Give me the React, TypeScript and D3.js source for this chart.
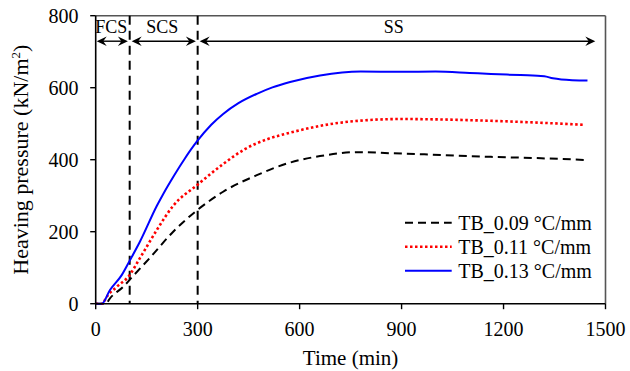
import React from "react";
import * as d3 from "d3";

const xTicks = [0, 300, 600, 900, 1200, 1500];
const yTicks = [0, 200, 400, 600, 800];

const seriesNames = ["TB_0.09 °C/mm", "TB_0.11 °C/mm", "TB_0.13 °C/mm"];

const timeBlack = [0, 30, 42, 81, 111, 160, 228, 299, 375, 474, 572, 660, 770, 868, 967, 1065, 1163, 1311, 1449];
const valBlack = [0, 0, 15, 47, 78, 128, 200, 260, 311, 357, 392, 410, 421, 418, 415, 411, 408, 404, 399];

const timeRed = [0, 22, 27, 62, 96, 131, 180, 228, 299, 375, 440, 505, 572, 660, 760, 898, 1000, 1163, 1300, 1434];
const valRed = [0, 0, 10, 47, 75, 128, 205, 272, 330, 388, 430, 457, 475, 494, 507, 513, 512, 508, 503, 497];

const timeBlue = [0, 18, 42, 77, 101, 130, 180, 200, 228, 260, 299, 340, 375, 420, 474, 520, 572, 660, 780, 898, 1000, 1100, 1163, 1250, 1320, 1345, 1370, 1447];
const valBlue = [0, 0, 38, 80, 121, 172, 272, 307, 352, 400, 452, 497, 527, 557, 583, 601, 616, 634, 645, 644, 645, 641, 638, 635, 632, 626, 623, 620];

const phaseBounds = [0, 100, 300, 1470];
const phaseLabels = ["FCS", "SCS", "SS"];

const W = 630;
const H = 371;
const FONT = "'Liberation Serif', 'Times New Roman', serif";

const x = d3.scaleLinear().domain([0, 1500]).range([95.7, 605.5]);
const y = d3.scaleLinear().domain([0, 800]).range([303.7, 15.7]);

type S = { t: number[]; v: number[]; color: string; dash: string; width: number };
const series: S[] = [
  { t: timeBlack, v: valBlack, color: "#000000", dash: "8,5", width: 2 },
  { t: timeRed, v: valRed, color: "#FF0000", dash: "2.5,2.5", width: 2.6 },
  { t: timeBlue, v: valBlue, color: "#0000FF", dash: "none", width: 2 },
];

const line = d3
  .line<[number, number]>()
  .x((d) => x(d[0]))
  .y((d) => y(d[1]))
  .curve(d3.curveMonotoneX);

function arrowHead(tipX: number, yy: number, dir: number) {
  const L = 10;
  const h = 4.8;
  const notch = 3.5;
  const bx = tipX - dir * L;
  const nx = tipX - dir * (L - notch);
  return `M${tipX},${yy} L${bx},${yy - h} L${nx},${yy} L${bx},${yy + h} Z`;
}

export default function App() {
  const arrowY = 41.2;
  const x0 = x.range()[0];
  const x1 = x.range()[1];
  const y0 = y.range()[0];
  const y1 = y.range()[1];
  return (
    <svg
      width={W}
      height={H}
      style={{ position: "absolute", left: 0, top: 0, background: "#fff" }}
      fontFamily={FONT}
    >
      <rect x={0} y={0} width={W} height={H} fill="#fff" />
      <line x1={x0} y1={y1} x2={x1} y2={y1} stroke="#555" strokeWidth={1.6} />
      <line x1={x1} y1={y1} x2={x1} y2={y0} stroke="#555" strokeWidth={1.6} />

      {[100, 300].map((t) => (
        <line key={t} x1={x(t)} x2={x(t)} y1={y1} y2={y0} stroke="#000" strokeWidth={2} strokeDasharray="9,6" />
      ))}

      {phaseLabels.map((lab, i) => {
        const a = x(phaseBounds[i]) + (i === 0 ? 1 : 2);
        const b = x(phaseBounds[i + 1]) - (i === 2 ? 0 : 1.8);
        return (
          <g key={lab}>
            <line x1={a + 4} x2={b - 4} y1={arrowY} y2={arrowY} stroke="#000" strokeWidth={1.4} />
            <path d={arrowHead(a, arrowY, -1)} fill="#000" />
            <path d={arrowHead(b, arrowY, 1)} fill="#000" />
          </g>
        );
      })}
      <text x={111.2} y={33.3} fontSize={18} textAnchor="middle">FCS</text>
      <text x={162.3} y={33.3} fontSize={18} textAnchor="middle">SCS</text>
      <text x={393.7} y={33.3} fontSize={18} textAnchor="middle">SS</text>

      {series.map((s, i) => (
        <path
          key={i}
          d={line(s.t.map((t, j) => [t, s.v[j]] as [number, number])) || ""}
          fill="none"
          stroke={s.color}
          strokeWidth={s.width}
          strokeDasharray={s.dash}
        />
      ))}

      <line x1={x0} y1={y0} x2={x1} y2={y0} stroke="#000" strokeWidth={1.6} />
      <line x1={x0} y1={y0} x2={x0} y2={y1} stroke="#000" strokeWidth={1.6} />
      {xTicks.map((t) => (
        <g key={t}>
          <line x1={x(t)} x2={x(t)} y1={y0} y2={y0 + 5.5} stroke="#000" strokeWidth={1.4} />
          <text x={x(t)} y={336} fontSize={20} textAnchor="middle">{t}</text>
        </g>
      ))}
      {yTicks.map((v) => (
        <g key={v}>
          <line x1={x0 - 5.5} x2={x0} y1={y(v)} y2={y(v)} stroke="#000" strokeWidth={1.4} />
          <text x={78.5} y={y(v) + 7} fontSize={20} textAnchor="end">{v}</text>
        </g>
      ))}

      <text x={(x0 + x1) / 2} y={364.5} fontSize={21} textAnchor="middle">Time (min)</text>
      <text transform={`translate(28,${(y0 + y1) / 2}) rotate(-90)`} fontSize={22} textAnchor="middle">
        Heaving pressure (kN/m<tspan dy={-8} fontSize={13}>2</tspan><tspan dy={8}>)</tspan>
      </text>

      {series.map((s, i) => {
        const ly = 222.7 + i * 24;
        return (
          <g key={i}>
            <line x1={405} x2={451.7} y1={ly} y2={ly} stroke={s.color} strokeWidth={s.width} strokeDasharray={s.dash} />
            <text x={458.3} y={ly + 6.8} fontSize={20}>{seriesNames[i]}</text>
          </g>
        );
      })}
    </svg>
  );
}
